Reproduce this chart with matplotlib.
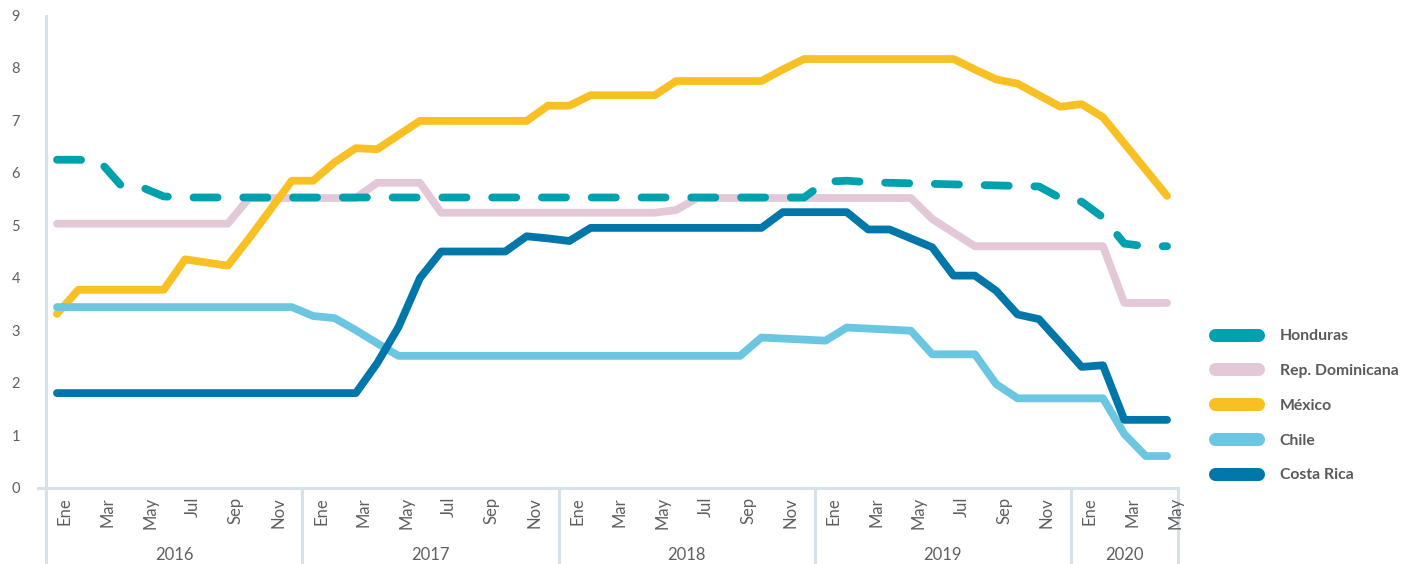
import matplotlib
matplotlib.use("Agg")
import matplotlib.pyplot as plt
import matplotlib.transforms as mtransforms
from matplotlib.lines import Line2D
import numpy as np

plt.rcParams['font.family'] = ['Lato', 'DejaVu Sans']

# ---------------- data ----------------
years = ["2016", "2017", "2018", "2019", "2020"]
months_per_year = [12, 12, 12, 12, 5]
month_names = ["Ene", "Feb", "Mar", "Abr", "May", "Jun",
               "Jul", "Ago", "Sep", "Oct", "Nov", "Dic"]

honduras = [6.25, 6.25, 6.22, 5.76, 5.72, 5.55, 5.53, 5.53, 5.53, 5.53, 5.53, 5.53,
            5.53, 5.53, 5.53, 5.53, 5.53, 5.53, 5.53, 5.53, 5.53, 5.53, 5.53, 5.53,
            5.53, 5.53, 5.53, 5.53, 5.53, 5.53, 5.53, 5.53, 5.53, 5.53, 5.53, 5.53,
            5.83, 5.85, 5.82, 5.81, 5.80, 5.79, 5.78, 5.77, 5.76, 5.75, 5.74, 5.52,
            5.45, 5.15, 4.65, 4.60, 4.60]

rep_dominicana = [5.03, 5.03, 5.03, 5.03, 5.03, 5.03, 5.03, 5.03, 5.03, 5.52, 5.52, 5.52,
                  5.52, 5.52, 5.52, 5.81, 5.81, 5.81, 5.24, 5.24, 5.24, 5.24, 5.24, 5.24,
                  5.24, 5.24, 5.24, 5.24, 5.24, 5.29, 5.52, 5.52, 5.52, 5.52, 5.52, 5.52,
                  5.52, 5.52, 5.52, 5.52, 5.52, 5.12, 4.86, 4.60, 4.60, 4.60, 4.60, 4.60,
                  4.60, 4.60, 3.52, 3.52, 3.52]

mexico = [3.31, 3.77, 3.77, 3.77, 3.77, 3.77, 4.35, 4.29, 4.23, 4.75, 5.30, 5.85,
          5.85, 6.20, 6.47, 6.45, 6.72, 6.99, 6.99, 6.99, 6.99, 6.99, 6.99, 7.28,
          7.28, 7.48, 7.48, 7.48, 7.48, 7.75, 7.75, 7.75, 7.75, 7.75, 7.97, 8.17,
          8.17, 8.17, 8.17, 8.17, 8.17, 8.17, 8.17, 7.97, 7.78, 7.70, 7.48, 7.26,
          7.31, 7.06, 6.56, 6.06, 5.56]

chile = [3.44, 3.44, 3.44, 3.44, 3.44, 3.44, 3.44, 3.44, 3.44, 3.44, 3.44, 3.44,
         3.27, 3.23, 3.00, 2.75, 2.51, 2.51, 2.51, 2.51, 2.51, 2.51, 2.51, 2.51,
         2.51, 2.51, 2.51, 2.51, 2.51, 2.51, 2.51, 2.51, 2.51, 2.86, 2.84, 2.82,
         2.80, 3.05, 3.03, 3.01, 2.99, 2.54, 2.54, 2.54, 1.97, 1.70, 1.70, 1.70,
         1.70, 1.70, 1.02, 0.60, 0.60]

costa_rica = [1.80, 1.80, 1.80, 1.80, 1.80, 1.80, 1.80, 1.80, 1.80, 1.80, 1.80, 1.80,
              1.80, 1.80, 1.80, 2.37, 3.06, 3.99, 4.50, 4.50, 4.50, 4.50, 4.79, 4.75,
              4.70, 4.95, 4.95, 4.95, 4.95, 4.95, 4.95, 4.95, 4.95, 4.95, 5.25, 5.25,
              5.25, 5.25, 4.92, 4.92, 4.75, 4.58, 4.04, 4.04, 3.75, 3.30, 3.21, 2.76,
              2.30, 2.33, 1.29, 1.29, 1.29]

series_names = ["Honduras", "Rep. Dominicana", "México", "Chile", "Costa Rica"]
colors = {"Honduras": "#00A1AF", "Rep. Dominicana": "#E3C9D8", "México": "#F8C022",
          "Chile": "#6AC6E1", "Costa Rica": "#0077A8"}

# ---------------- figure ----------------
W, H = 1402, 564
fig = plt.figure(figsize=(W / 100, H / 100), dpi=100)
ax_l, ax_r = 46.3, 1177.7
ax_b, ax_t = 487.5, 15.5
ax = fig.add_axes([ax_l / W, 1 - ax_b / H, (ax_r - ax_l) / W, (ax_b - ax_t) / H])

n = sum(months_per_year)
x = np.arange(n)
lw = 5.6

ax.plot(x, rep_dominicana, color=colors["Rep. Dominicana"], lw=lw,
        solid_capstyle='round', solid_joinstyle='round', zorder=2)
ax.plot(x, mexico, color=colors["México"], lw=lw,
        solid_capstyle='round', solid_joinstyle='round', zorder=3)
ax.plot(x, chile, color=colors["Chile"], lw=lw,
        solid_capstyle='round', solid_joinstyle='round', zorder=4)
ax.plot(x, costa_rica, color=colors["Costa Rica"], lw=lw,
        solid_capstyle='round', solid_joinstyle='round', zorder=5)
ax.plot(x, honduras, color=colors["Honduras"], lw=lw, linestyle=(0, (3.1, 3.3)),
        dash_capstyle='round', dash_joinstyle='round', zorder=6)

ax.set_xlim(-0.5, n - 0.5)
ax.set_ylim(0, 9)
for s in ax.spines.values():
    s.set_visible(False)

grid_col = "#D8E1E8"
text_col = "#5E5F62"

# y ticks
ax.set_yticks(range(0, 10))
ax.tick_params(axis='y', length=0, pad=19, labelsize=10.5, labelcolor=text_col)

# x ticks (every other month)
tick_pos, tick_lab = [], []
i = 0
for y_, m in zip(years, months_per_year):
    for k in range(m):
        if k % 2 == 0:
            tick_pos.append(i)
            tick_lab.append(month_names[k])
        i += 1
ax.set_xticks(tick_pos)
ax.set_xticklabels(tick_lab, rotation=90)
ax.tick_params(axis='x', length=0, pad=6.8, labelsize=12, labelcolor=text_col)
offset = mtransforms.ScaledTranslation(8 / 100, 0, fig.dpi_scale_trans)
for lab in ax.get_xticklabels():
    lab.set_transform(lab.get_transform() + offset)

# axis lines
trans = mtransforms.blended_transform_factory(ax.transData, ax.transAxes)
bottom_y = -(H - ax_b) / (ax_b - ax_t)
ax.add_line(Line2D([(38 - ax_l) / (ax_r - ax_l), 1.0], [0, 0], transform=ax.transAxes,
                   color=grid_col, lw=2.2, clip_on=False, zorder=1))
ax.add_line(Line2D([-0.5, -0.5], [1.0, bottom_y], transform=trans,
                   color=grid_col, lw=2.2, clip_on=False, zorder=1))
start = 0
year_y = -(555 - ax_b) / (ax_b - ax_t)
for y_, m in zip(years, months_per_year):
    end = start + m
    ax.add_line(Line2D([end - 0.5, end - 0.5], [0, bottom_y], transform=trans,
                       color=grid_col, lw=2.2, clip_on=False, zorder=1))
    ax.text((start + end - 1) / 2, year_y, y_, transform=trans, ha='center', va='center',
            fontsize=12, color=text_col)
    start = end

# legend
handles = [Line2D([0], [0], color=colors[nm], lw=9.4, solid_capstyle='round')
           for nm in series_names]
leg = fig.legend(handles, series_names, loc='upper left',
                 bbox_to_anchor=(1214.5 / W, 1 - 329 / H), frameon=False,
                 borderpad=0, borderaxespad=0, handlelength=2.8, handletextpad=1.35,
                 labelspacing=1.33, prop={'weight': 'bold', 'size': 11.3})
for t in leg.get_texts():
    t.set_color("#595A5C")

fig.savefig("out.png", dpi=100)
